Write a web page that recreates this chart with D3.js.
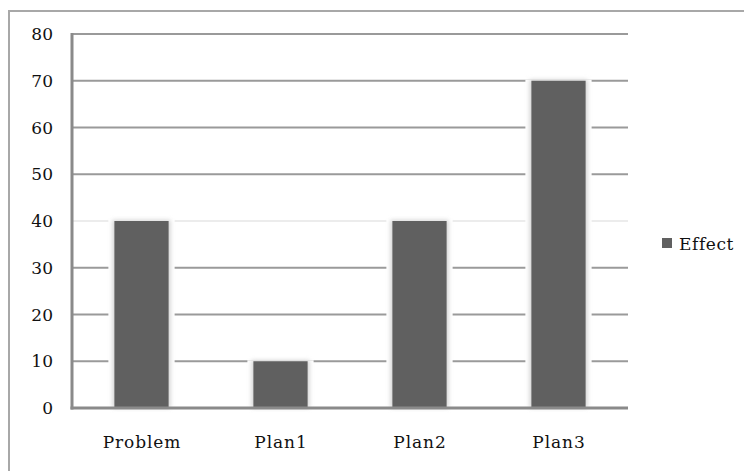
<!DOCTYPE html>
<html><head><meta charset="utf-8">
<script src="https://cdn.jsdelivr.net/npm/d3@7"></script>
<style>body{margin:0;background:#fff}svg{display:block}</style>
</head><body><svg id="c" width="744" height="471"></svg>
<script>
const categories = ["Problem","Plan1","Plan2","Plan3"];
const effect = [40,10,40,70];
const yTicks = [0,10,20,30,40,50,60,70,80];
const seriesName = "Effect";

const svg = d3.select("#c");
const font = "'DejaVu Serif', serif";
const m = {left:72, right:628, top:34, bottom:408};

const x = d3.scaleBand().domain(categories).range([m.left, m.right]).paddingInner(0.61).paddingOuter(0.305);
const y = d3.scaleLinear().domain([0,80]).range([m.bottom, m.top]);

const defs = svg.append("defs");
const f = defs.append("filter").attr("id","glow").attr("x","-30%").attr("y","-10%").attr("width","160%").attr("height","120%");
f.append("feGaussianBlur").attr("stdDeviation",2);

// outer border
svg.append("rect").attr("x",9).attr("y",11).attr("width",800).attr("height",500)
  .attr("fill","none").attr("stroke","#a8a8a8").attr("stroke-width",2);

// gridlines
svg.append("g").selectAll("line").data(yTicks.filter(d=>d>0)).join("line")
  .attr("x1",m.left).attr("x2",m.right)
  .attr("y1",d=>y(d)).attr("y2",d=>y(d))
  .attr("stroke",d=>d===40?"#ececec":"#9a9a9a").attr("stroke-width",2);

// bar halos
const bw = x.bandwidth();
svg.append("g").selectAll("rect").data(effect).join("rect")
  .attr("x",(d,i)=>x(categories[i])-6).attr("width",bw+12)
  .attr("y",d=>y(d)-1).attr("height",d=>m.bottom-y(d)+1)
  .attr("fill","#fff");
svg.append("g").selectAll("rect").data(effect).join("rect")
  .attr("x",(d,i)=>x(categories[i])-2).attr("width",bw+4)
  .attr("y",d=>y(d)-1).attr("height",d=>m.bottom-y(d)+1)
  .attr("fill","#d4d4d4").attr("filter","url(#glow)");
// bars
svg.append("g").selectAll("rect").data(effect).join("rect")
  .attr("x",(d,i)=>x(categories[i])).attr("width",bw)
  .attr("y",d=>y(d)).attr("height",d=>m.bottom-y(d))
  .attr("fill","#606060");

// axes
svg.append("line").attr("x1",m.left).attr("x2",m.left).attr("y1",m.top-1).attr("y2",m.bottom+1.5)
  .attr("stroke","#8a8a8a").attr("stroke-width",3);
svg.append("line").attr("x1",m.left-1.5).attr("x2",m.right).attr("y1",m.bottom).attr("y2",m.bottom)
  .attr("stroke","#8a8a8a").attr("stroke-width",3);

// y tick labels
svg.append("g").selectAll("text").data(yTicks).join("text")
  .attr("x",53).attr("y",d=>y(d)).attr("dy","0.36em").attr("text-anchor","end")
  .attr("font-family",font).attr("font-size",17).attr("fill","#111").text(d=>d);

// x labels
svg.append("g").selectAll("text").data(categories).join("text")
  .attr("x",d=>x(d)+bw/2+0.5).attr("y",448).attr("text-anchor","middle")
  .attr("font-family",font).attr("font-size",17).attr("letter-spacing",0.9).attr("fill","#111").text(d=>d);

// legend
svg.append("rect").attr("x",662).attr("y",238).attr("width",10).attr("height",10).attr("fill","#606060");
svg.append("text").attr("x",679).attr("y",250).attr("font-family",font).attr("font-size",17)
  .attr("letter-spacing",0.6).attr("fill","#111").text(seriesName);
</script></body></html>
